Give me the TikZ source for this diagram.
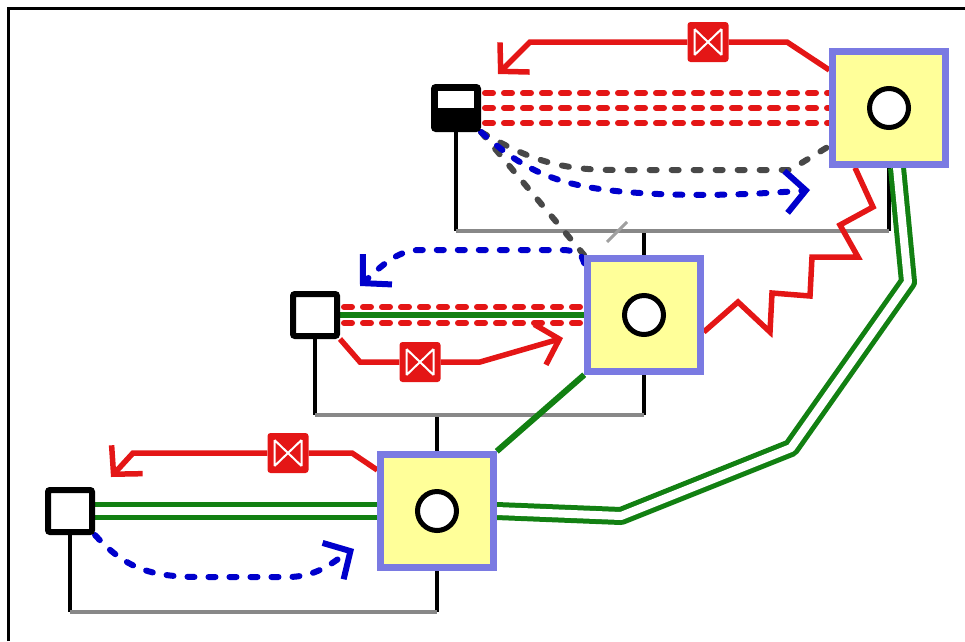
\documentclass[tikz,border=0pt]{standalone}
\usetikzlibrary{arrows.meta,backgrounds}
\definecolor{hubblue}{RGB}{122,122,226}
\definecolor{hubyellow}{RGB}{255,255,153}
\definecolor{wred}{RGB}{228,22,22}
\definecolor{wblue}{RGB}{0,0,204}
\definecolor{wgray}{RGB}{72,72,72}
\definecolor{wgreen}{RGB}{18,128,18}
\definecolor{busgray}{RGB}{136,136,136}
\tikzset{
  hub/.style={draw=hubblue,fill=hubyellow,line width=6.5pt,minimum size=113pt,inner sep=0pt},
  ring/.style={circle,draw,fill=white,line width=5pt,minimum size=39pt,inner sep=0pt},
  term/.style={draw,fill=white,line width=6pt,minimum width=44pt,minimum height=42pt,rounded corners=2pt,inner sep=0pt},
  window/.style={fill=white,minimum width=36pt,minimum height=17pt,inner sep=0pt},
  valve/.style={fill=wred,rounded corners=3pt,minimum width=41pt,minimum height=40pt,inner sep=0pt,
    path picture={
      \draw[white,line width=2pt]
        ([shift={(7pt,7pt)}]path picture bounding box.south west) -- ([shift={(-7pt,-7pt)}]path picture bounding box.north east)
        ([shift={(7pt,-7pt)}]path picture bounding box.north west) -- ([shift={(-7pt,7pt)}]path picture bounding box.south east)
        ([shift={(7pt,7pt)}]path picture bounding box.south west) -- ([shift={(7pt,-7pt)}]path picture bounding box.north west)
        ([shift={(-7pt,7pt)}]path picture bounding box.south east) -- ([shift={(-7pt,-7pt)}]path picture bounding box.north east);
    }},
  barb/.style={-{Straight Barb[length=20pt,width=42pt]}},
  redwire/.style={draw=wred,line width=5.5pt,line join=miter},
  reddash/.style={draw=wred,line width=6pt,line cap=round,dash pattern=on 8pt off 11pt},
  bluedash/.style={draw=wblue,line width=6pt,line cap=round,dash pattern=on 7pt off 14pt},
  graydash/.style={draw=wgray,line width=6pt,line cap=round,dash pattern=on 7pt off 15pt},
  greenwire/.style={draw=wgreen,line width=6pt},
  twinwire/.style={draw=wgreen,line width=5pt,double=white,double distance=8pt,line join=round},
  stem/.style={draw=black,line width=4pt},
  bus/.style={draw=busgray,line width=4pt},
}
\begin{document}
\begin{tikzpicture}[x=1pt,y=-1pt]
\useasboundingbox (0,0) rectangle (965,641);
\draw[line width=3pt] (8,641) -- (8,8) -- (965,8);
%% nodes
  % Node: hubs
  \node[hub] (hub1) at (889,108) {};
  \node[hub] (hub2) at (644,315) {};
  \node[hub] (hub3) at (437,511) {};
  \node[ring] (ring1) at (hub1) {};
  \node[ring] (ring2) at (hub2) {};
  \node[ring] (ring3) at (hub3) {};
  % Node: terminals
  \node[term,fill=black] (term1) at (456,108) {};
  \node[window] (win1) at ([yshift=9pt]term1.center) {};
  \node[term] (term2) at (315,315) {};
  \node[term] (term3) at (70,511) {};
  % Node: valves
  \node[valve] (valve1) at (708,42) {};
  \node[valve] (valve2) at (420,362) {};
  \node[valve] (valve3) at (288,453) {};
  % free ends
  \coordinate (bus1) at (0,231);
  \coordinate (bus2) at (0,415);
  \coordinate (bus3) at (0,612);
  \coordinate (tip1) at (498,74);
  \coordinate (tip2) at (563,338);
  \coordinate (tip3) at (111,477);
  \coordinate (tipb1) at (810,190);
  \coordinate (tipb2) at (360,286);
  \coordinate (tipb3) at (354,549);
%% edges
\begin{scope}[on background layer]
  % Edge: buses
  \draw[stem] (term1.south) -- (term1.south |- bus1);
  \draw[stem] (hub1.south) -- (hub1.south |- bus1);
  \draw[stem] (hub2.north) -- (hub2.north |- bus1);
  \draw[bus] (term1.south |- bus1) -- (hub1.south |- bus1);
  \draw[stem] (term2.south) -- (term2.south |- bus2);
  \draw[stem] (hub2.south) -- (hub2.south |- bus2);
  \draw[stem] (hub3.north) -- (hub3.north |- bus2);
  \draw[bus] (term2.south |- bus2) -- (hub2.south |- bus2);
  \draw[stem] (term3.south) -- (term3.south |- bus3);
  \draw[stem] (hub3.south) -- (hub3.south |- bus3);
  \draw[bus] (term3.south |- bus3) -- (hub3.south |- bus3);
  \draw[draw=busgray!80,line width=3pt] (607,242) -- (627,222);
  % Edge: term1 -> hub1
  \foreach \s in {15,0,-15}
    \draw[reddash] ([yshift=\s pt,xshift=4pt]term1.east) -- ([yshift=\s pt]term1.east -| hub1.west);
  \draw[graydash] (term1.south east) .. controls (530,160) and (560,170) .. (615,170) -- (790,170) -- ([yshift=-38pt]hub1.west);
  \draw[graydash] (term1.south east) -- (hub2.north west);
  \draw[bluedash,barb] (term1.south east) .. controls (525,172) and (560,188) .. (640,193) .. controls (700,197) and (760,194) .. (tipb1);
  \draw[redwire,barb] ([yshift=38pt]hub1.west) -- (787,42) -- (valve1) -- (530,42) -- (tip1);
  % Edge: term2 -> hub2
  \draw[greenwire] (term2.east) -- (term2.east -| hub2.west);
  \foreach \s in {8,-8}
    \draw[reddash] ([yshift=\s pt,xshift=4pt]term2.east) -- ([yshift=\s pt]term2.east -| hub2.west);
  \draw[redwire,barb] (term2.south east) -- (360,362) -- (valve2) -- (480,362) -- (tip2);
  \draw[bluedash,barb] ([yshift=-8pt]hub2.north west) .. controls (580,252) .. (565,250) -- (420,250) .. controls (400,250) and (385,262) .. (tipb2);
  % Edge: term3 -> hub3
  \draw[twinwire] (term3.east) -- (term3.east -| hub3.west);
  \draw[redwire,barb] ([yshift=41pt]hub3.west) -- (352,453) -- (valve3) -- (133,453) -- (tip3);
  \draw[bluedash,barb] (term3.south east) .. controls (125,568) and (150,577) .. (200,577) -- (290,577) .. controls (320,576) and (335,560) .. (tipb3);
  % Edge: hub -> hub
  \draw[greenwire] (hub3.north east) -- (hub2.south west);
  \draw[twinwire] (hub3.east) -- (621,516) -- (791,448) -- (908,282) -- ([xshift=8pt]hub1.south);
  \draw[redwire] ([yshift=-17pt]hub2.east) -- (738,302) -- (770,332) -- (772,293) -- (810,296) -- (812,257) -- (858,257) -- (840,225) -- (873,207) -- ([xshift=-34pt]hub1.south);
\end{scope}
\end{tikzpicture}
\end{document}
